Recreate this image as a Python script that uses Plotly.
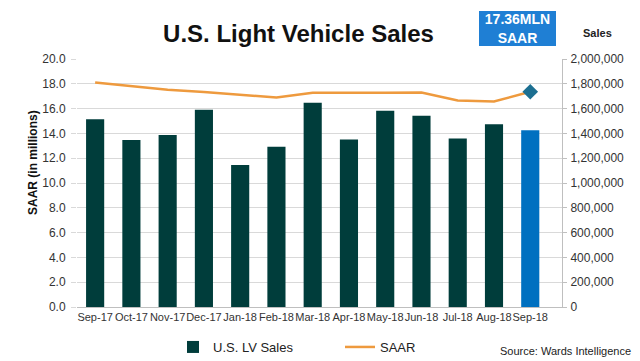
import plotly.graph_objects as go

months = ["Sep-17", "Oct-17", "Nov-17", "Dec-17", "Jan-18", "Feb-18", "Mar-18",
          "Apr-18", "May-18", "Jun-18", "Jul-18", "Aug-18", "Sep-18"]
lv_sales = [1515000, 1347000, 1388000, 1590000, 1145000, 1293000, 1647000,
            1350000, 1582000, 1542000, 1358000, 1474000, 1426000]
saar = [18.10, 17.84, 17.52, 17.33, 17.14, 16.90, 17.27,
        17.25, 17.27, 17.30, 16.65, 16.57, 17.36]
left_ticks = [0, 2, 4, 6, 8, 10, 12, 14, 16, 18, 20]
right_ticks = [0, 200000, 400000, 600000, 800000, 1000000, 1200000,
               1400000, 1600000, 1800000, 2000000]

DARK = "#003d3b"
BLUE = "#0070c0"
ORANGE = "#ee9a3e"
DIAMOND = "#1c6f91"
BOX = "#1f7fd4"
FONT = "Liberation Sans"

W, H = 640, 361
L, R, T, B = 77, 78, 59, 54
PW, PH = W - L - R, H - T - B


def px(x):
    return (x - L) / PW


def py(y):
    return (H - B - y) / PH


bar_colors = [DARK] * (len(months) - 1) + [BLUE]

fig = go.Figure()
fig.add_trace(go.Bar(
    x=months, y=lv_sales, name="U.S. LV Sales", yaxis="y2",
    marker=dict(color=bar_colors, line=dict(width=0)),
))
fig.add_trace(go.Scatter(
    x=months, y=saar, name="SAAR", mode="lines", yaxis="y",
    line=dict(color=ORANGE, width=2.5),
))
fig.add_trace(go.Scatter(
    x=[months[-1]], y=[saar[-1]], mode="markers", yaxis="y", showlegend=False,
    marker=dict(symbol="diamond", size=12, color=DIAMOND),
))

fig.update_layout(
    width=W, height=H,
    margin=dict(l=L, r=R, t=T, b=B, autoexpand=False),
    paper_bgcolor="white", plot_bgcolor="white",
    font=dict(family=FONT, size=12, color="#333333"),
    bargap=0.5,
    xaxis=dict(
        type="category", showgrid=False, showline=True, linecolor="#bfbfbf",
        ticks="", tickangle=0, tickfont=dict(size=11, color="#333333"),
    ),
    yaxis=dict(
        range=[0, 20], tickvals=left_ticks, tickformat=".1f",
        showgrid=True, gridcolor="#d9d9d9", gridwidth=1,
        showline=False, zeroline=False, ticks="outside", ticklen=5,
        tickcolor="#d9d9d9", tickfont=dict(size=12, color="#333333"),
        ticklabelstandoff=3,
    ),
    yaxis2=dict(
        range=[0, 2000000], tickvals=right_ticks, tickformat=",d",
        overlaying="y", side="right", showgrid=False, showline=True,
        linecolor="#bfbfbf", ticks="outside", ticklen=4, tickcolor="#bfbfbf",
        zeroline=False, tickfont=dict(size=12, color="#333333"),
        ticklabelstandoff=1,
    ),
    legend=dict(
        orientation="h", xref="paper", x=px(173), yref="container", y=1 - 347 / H,
        xanchor="left", yanchor="middle",
        font=dict(size=13, color="#222222"), entrywidth=122, traceorder="normal",
    ),
    title=dict(
        text="<b>U.S. Light Vehicle Sales</b>", x=298.5 / W, xanchor="center",
        y=1 - 34 / H, yanchor="middle", font=dict(size=24, color="#111111", family=FONT),
    ),
)

fig.add_annotation(
    text="<b>SAAR (in millions)</b>", xref="paper", yref="paper",
    x=px(33), y=py(163), xanchor="center", yanchor="middle", textangle=-90,
    showarrow=False, font=dict(size=12, color="#111111", family=FONT),
)
fig.add_annotation(
    text="<b>17.36MLN<br>SAAR</b>", xref="paper", yref="paper",
    x=px(517.5), y=py(28.5), xanchor="center", yanchor="middle",
    showarrow=False, bgcolor=BOX, bordercolor=BOX, borderpad=1,
    font=dict(size=14, color="white", family=FONT), width=73, height=31, align="center",
)
fig.add_annotation(
    text="<b>Sales</b>", xref="paper", yref="paper",
    x=px(597), y=py(33), xanchor="center", yanchor="middle",
    showarrow=False, font=dict(size=11, color="#222222", family=FONT),
)
fig.add_annotation(
    text="Source: Wards Intelligence", xref="paper", yref="paper",
    x=px(633), y=py(351), xanchor="right", yanchor="middle",
    showarrow=False, font=dict(size=11, color="#222222", family=FONT),
)

fig.write_html("out.html", config={"displayModeBar": False},
               post_script="document.body.style.margin='0';")
